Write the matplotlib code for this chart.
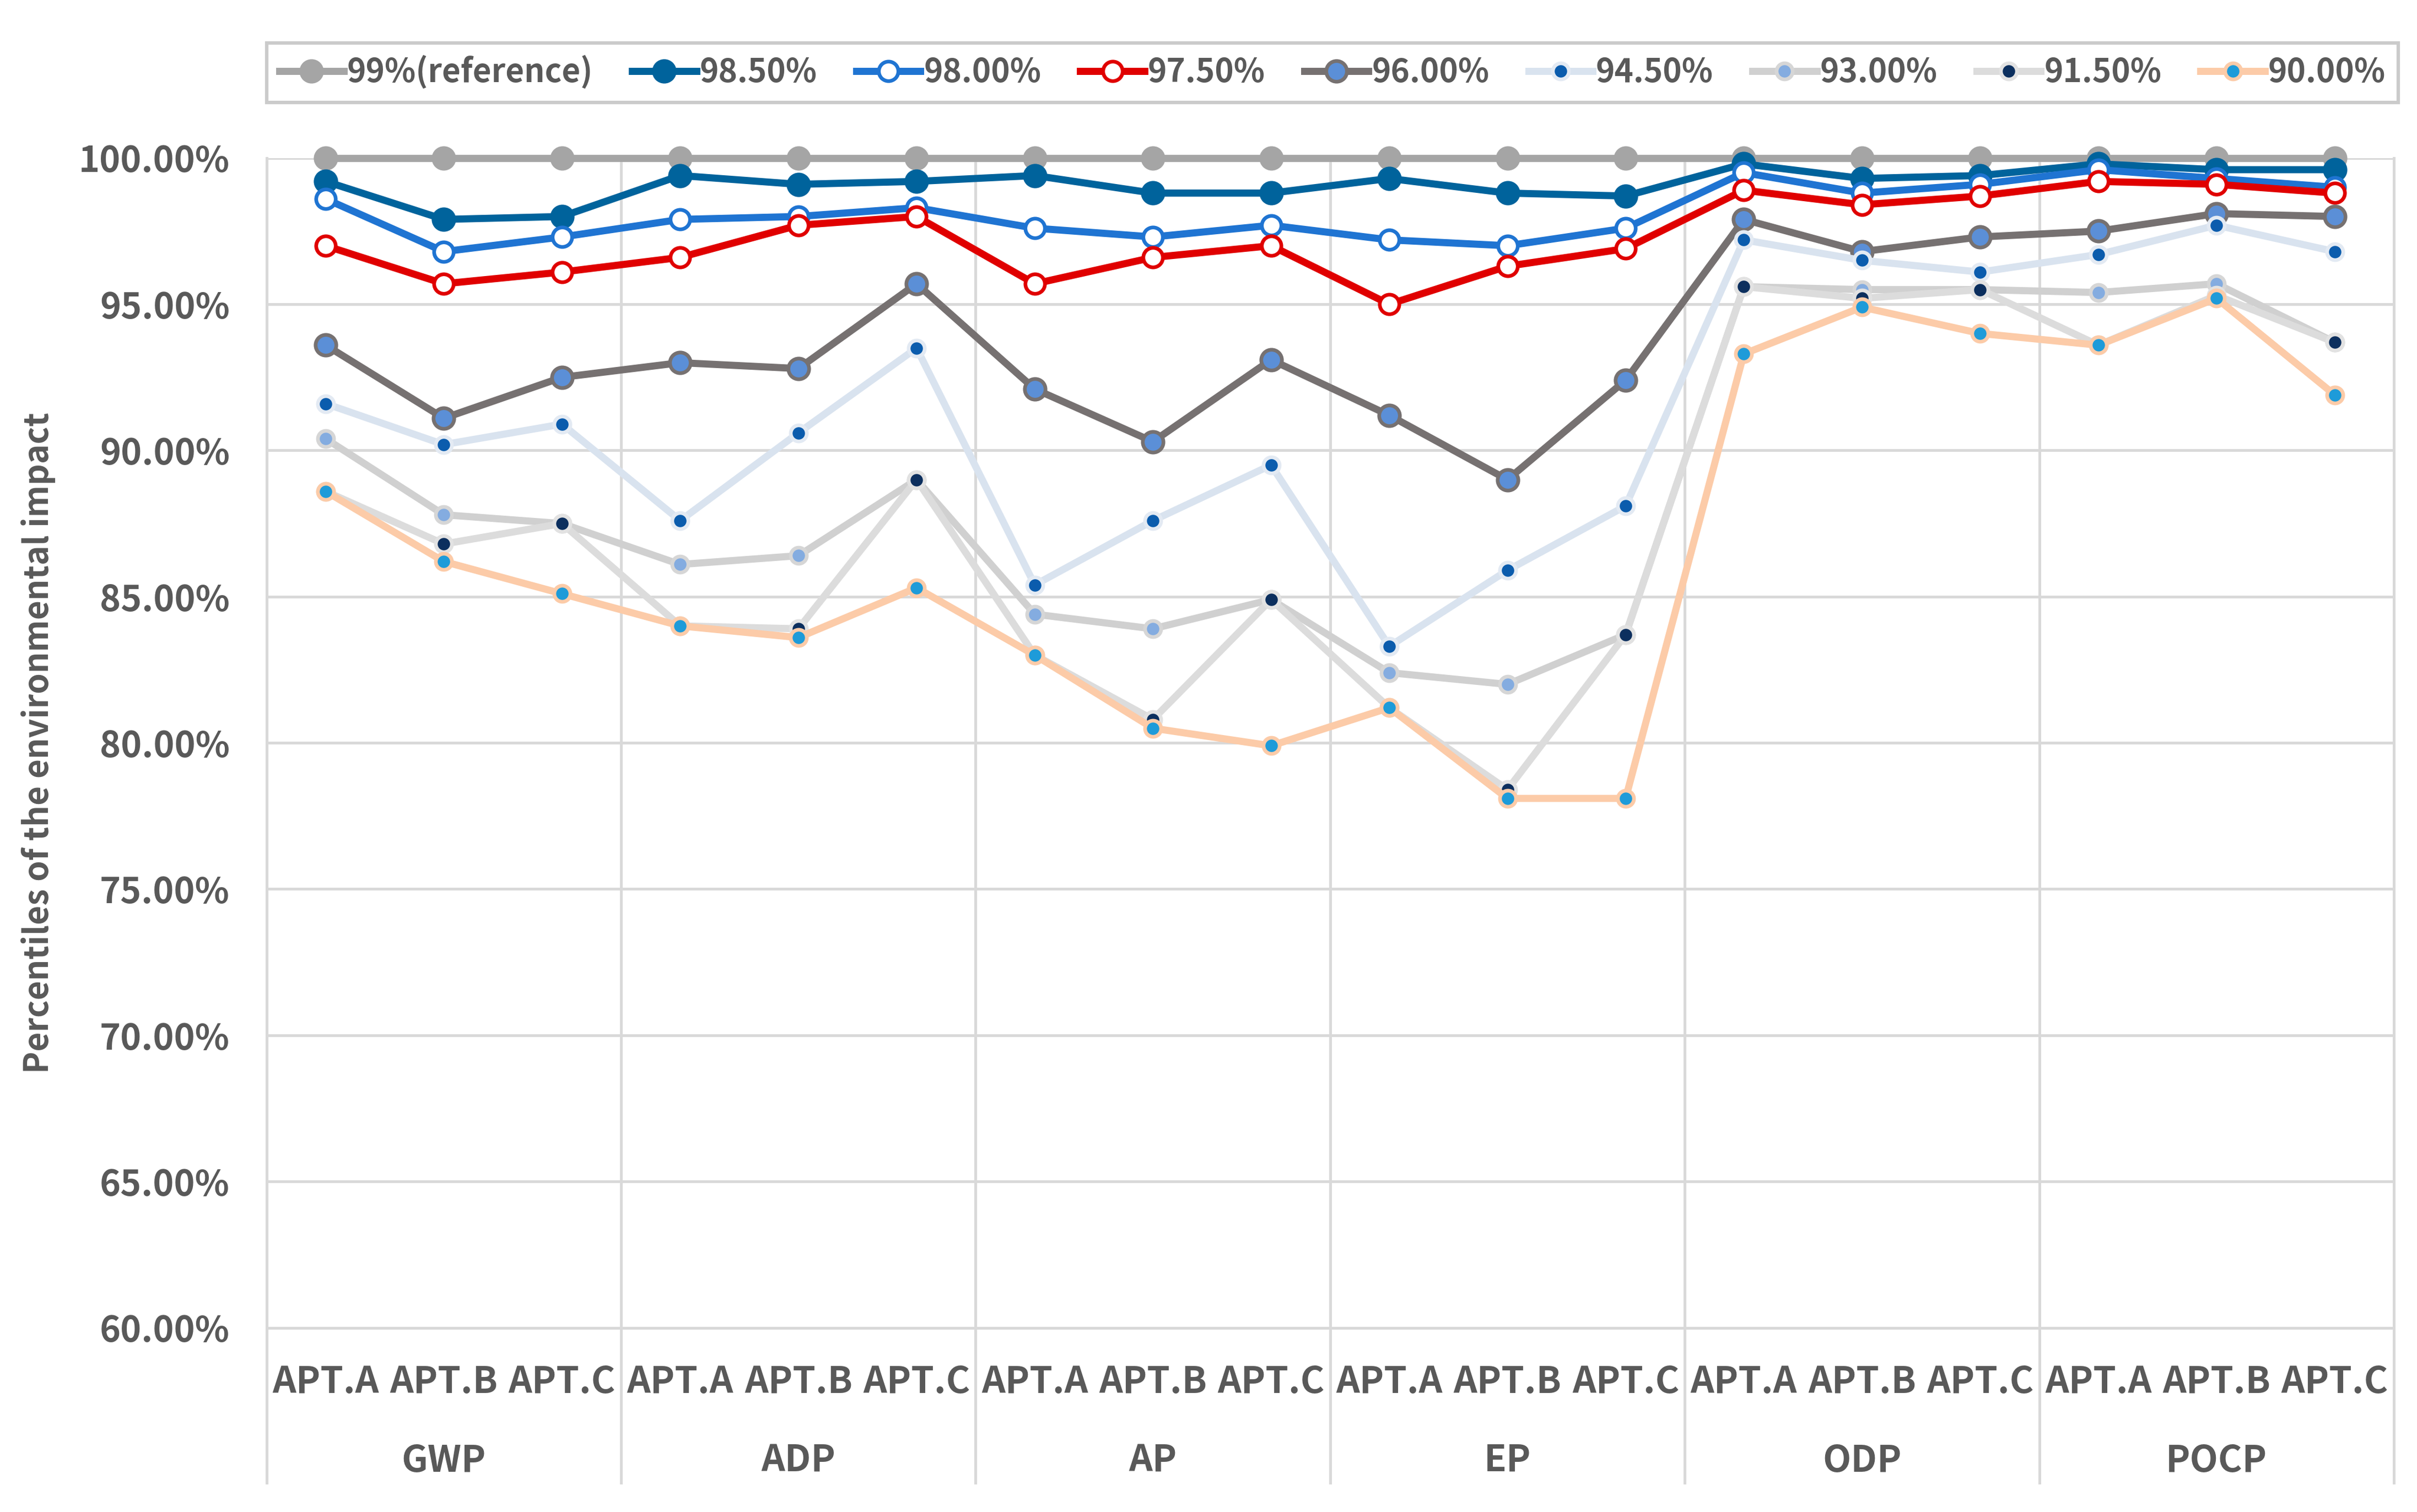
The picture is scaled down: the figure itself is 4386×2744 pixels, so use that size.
import matplotlib
matplotlib.use('Agg')
import matplotlib.pyplot as plt
from matplotlib.ticker import FuncFormatter

plt.rcParams['font.family'] = ['Noto Sans CJK KR', 'DejaVu Sans']
plt.rcParams['font.weight'] = 'bold'

# categories
groups = ['GWP', 'ADP', 'AP', 'EP', 'ODP', 'POCP']
apts = ['APT.A', 'APT.B', 'APT.C']

# series values (%)
p990 = [100.0] * 18
p985 = [99.2, 97.9, 98.0, 99.4, 99.1, 99.2, 99.4, 98.8, 98.8, 99.3, 98.8, 98.7,
        99.8, 99.3, 99.4, 99.8, 99.6, 99.6]
p980 = [98.6, 96.8, 97.3, 97.9, 98.0, 98.3, 97.6, 97.3, 97.7, 97.2, 97.0, 97.6,
        99.5, 98.8, 99.1, 99.6, 99.3, 99.0]
p975 = [97.0, 95.7, 96.1, 96.6, 97.7, 98.0, 95.7, 96.6, 97.0, 95.0, 96.3, 96.9,
        98.9, 98.4, 98.7, 99.2, 99.1, 98.8]
p960 = [93.6, 91.1, 92.5, 93.0, 92.8, 95.7, 92.1, 90.3, 93.1, 91.2, 89.0, 92.4,
        97.9, 96.8, 97.3, 97.5, 98.1, 98.0]
p945 = [91.6, 90.2, 90.9, 87.6, 90.6, 93.5, 85.4, 87.6, 89.5, 83.3, 85.9, 88.1,
        97.2, 96.5, 96.1, 96.7, 97.7, 96.8]
p930 = [90.4, 87.8, 87.5, 86.1, 86.4, 89.0, 84.4, 83.9, 84.9, 82.4, 82.0, 83.7,
        95.6, 95.5, 95.5, 95.4, 95.7, 93.7]
p915 = [88.6, 86.8, 87.5, 84.0, 83.9, 89.0, 83.0, 80.8, 84.9, 81.2, 78.4, 83.7,
        95.6, 95.2, 95.5, 93.6, 95.3, 93.7]
p900 = [88.6, 86.2, 85.1, 84.0, 83.6, 85.3, 83.0, 80.5, 79.9, 81.2, 78.1, 78.1,
        93.3, 94.9, 94.0, 93.6, 95.2, 91.9]

series = [
    ('99%(reference)', p990, '#A5A5A5', '#A5A5A5', '#A5A5A5', 9.0),
    ('98.50%', p985, '#00639C', '#00639C', '#00639C', 9.0),
    ('98.00%', p980, '#1F74D2', 'white', '#1F74D2', 8.5),
    ('97.50%', p975, '#E00000', 'white', '#E00000', 8.5),
    ('96.00%', p960, '#767171', '#5B8FD7', '#767171', 9.0),
    ('94.50%', p945, '#D9E3EF', '#0B5CAD', '#E3EAF3', 7.0),
    ('93.00%', p930, '#D0D0D0', '#84ACE0', '#D6D6D6', 7.0),
    ('91.50%', p915, '#DCDCDC', '#0C2F5E', '#E2E2E2', 7.0),
    ('90.00%', p900, '#FCCBA8', '#1E9BD9', '#FCCBA8', 7.0),
]

txt = '#595959'
grid = '#D9D9D9'

fig = plt.figure(figsize=(4386 / 300, 2744 / 300), dpi=300)
ax = fig.add_axes([0.1103, 0.1219, 0.8801, 0.7736])

x = list(range(len(groups) * len(apts)))
for name, vals, lc, mfc, mec, ms in series:
    ax.plot(x, vals, color=lc, lw=3.1, marker='o', ms=ms, mfc=mfc, mec=mec,
            mew=1.6, label=name, clip_on=False, zorder=3)

ax.set_xlim(-0.5, 17.5)
ax.set_ylim(60, 100)
ax.set_yticks(range(60, 101, 5))
ax.yaxis.set_major_formatter(FuncFormatter(lambda v, p: '%.2f%%' % v))
ax.tick_params(axis='y', length=0, labelsize=15.5, labelcolor=txt, pad=16)
ax.set_xticks([])
ax.grid(axis='y', color=grid, lw=1.2, zorder=0)
for s in ['left', 'right', 'bottom']:
    ax.spines[s].set_color(grid)
    ax.spines[s].set_linewidth(1.2)
ax.spines['top'].set_visible(False)

# group separators reaching down through the label rows
trans = ax.get_xaxis_transform()
for i in range(len(groups) + 1):
    xs = i * 3 - 0.5
    ax.plot([xs, xs], [-0.1325, 1.0], transform=trans, color=grid, lw=1.2,
            clip_on=False, zorder=1)

for i in x:
    ax.text(i, -0.0464, apts[i % 3], transform=trans, ha='center', va='center',
            fontsize=16, color=txt)
for g, name in enumerate(groups):
    ax.text(g * 3 + 1, -0.1139, name, transform=trans, ha='center', va='center',
            fontsize=16, color=txt)

ax.set_ylabel('Percentiles of the environmental impact', fontsize=14.5,
              color=txt, fontweight='bold', labelpad=10)

leg = fig.legend(loc='center', ncol=9, mode='expand',
                 bbox_to_anchor=(0.1103, 0.930, 0.882, 0.044),
                 fontsize=14, handlelength=2.0, handletextpad=0.1,
                 columnspacing=0.3, borderaxespad=0, fancybox=False,
                 edgecolor='#BFBFBF')
leg.get_frame().set_linewidth(1.5)
for t in leg.get_texts():
    t.set_color(txt)

fig.savefig('out.png', dpi=300, facecolor='white')
